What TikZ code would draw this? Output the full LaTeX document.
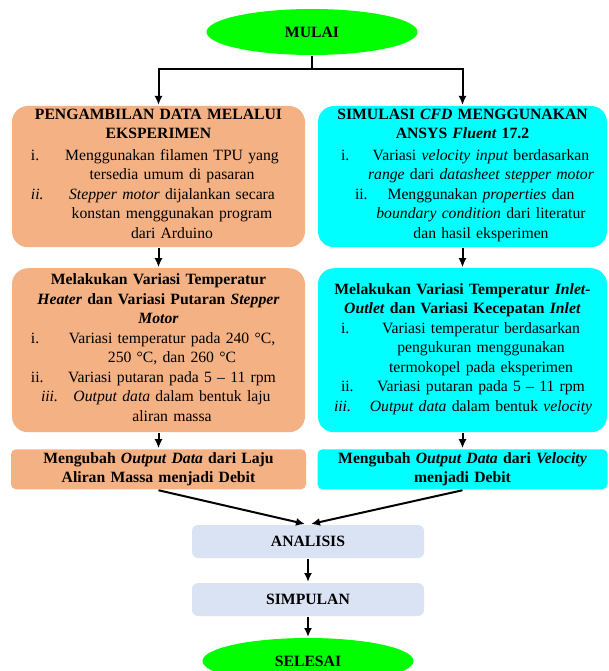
\documentclass[tikz,border=0pt]{standalone}
\usepackage{fontspec}
\setmainfont{Liberation Serif}
\usepackage{array}
\usetikzlibrary{positioning}
\usetikzlibrary{shapes.geometric}
\usetikzlibrary{arrows.meta}
\definecolor{expfill}{HTML}{F4B183}
\definecolor{simfill}{HTML}{00FFFF}
\definecolor{endfill}{HTML}{00FF00}
\definecolor{procfill}{HTML}{DAE3F3}
\newcommand{\flowfont}{\fontsize{15.7}{19.5}\selectfont}

\begin{document}
\begin{tikzpicture}[x=1pt,y=-1pt,line width=2pt,>={Latex[length=9pt,width=8pt]},font=\flowfont,
  endnode/.style={ellipse,fill=endfill,minimum width=211pt,minimum height=46pt,font=\flowfont\bfseries},
  expbox/.style={rectangle,rounded corners=16pt,fill=expfill,text width=293pt,align=center,inner xsep=0pt,inner ysep=3pt},
  simbox/.style={expbox,fill=simfill,text width=289pt},
  debitexpbox/.style={expbox,rounded corners=5pt,text width=295pt,minimum height=40pt,font=\flowfont\bfseries},
  debitsimbox/.style={debitexpbox,fill=simfill,text width=290pt},
  procbox/.style={rectangle,rounded corners=6pt,fill=procfill,minimum width=232pt,minimum height=33pt,font=\flowfont\bfseries}]
  \useasboundingbox (0,0) rectangle (608,671);
  \node[endnode] (mulai) at (312,32) {MULAI};
  \node[expbox,minimum height=141pt,anchor=north] (eksp) at (158.5,105) {%
    \textbf{PENGAMBILAN DATA MELALUI}\\\textbf{EKSPERIMEN}\\[2pt]
    \begin{tabular}[t]{@{}p{27pt}@{}>{\centering\arraybackslash}p{228pt}@{}}
      i. & Menggunakan filamen TPU yang\par tersedia umum di pasaran\\
      \textit{ii.} & \textit{Stepper motor} dijalankan secara\par konstan menggunakan program\par dari Arduino
    \end{tabular}};
  \node[simbox,minimum height=141pt,anchor=north] (simu) at (462.5,105) {%
    \textbf{SIMULASI \textit{CFD} MENGGUNAKAN}\\\textbf{ANSYS \textit{Fluent} 17.2}\\[2pt]
    \begin{tabular}[t]{@{\hspace{15pt}}p{22pt}@{}>{\centering\arraybackslash}p{236pt}@{}}
      i. & Variasi \textit{velocity input} berdasarkan\par \textit{range} dari \textit{datasheet stepper motor}\\
      \rlap{\hspace*{14pt}ii.} & Menggunakan \textit{properties} dan\par \textit{boundary condition} dari literatur\par dan hasil eksperimen
    \end{tabular}};
  \node[expbox,minimum height=164pt,below=19pt of eksp] (varexp) {%
    \textbf{Melakukan Variasi Temperatur}\\\textbf{\textit{Heater} dan Variasi Putaran \textit{Stepper}}\\\textbf{\textit{Motor}}\\
    \begin{tabular}[t]{@{}p{27pt}@{}>{\centering\arraybackslash}p{228pt}@{}}
      i. & Variasi temperatur pada 240 °C,\par 250 °C, dan 260 °C\\
      ii. & Variasi putaran pada 5 -- 11 rpm\\
      \hspace*{10pt}\textit{iii.} & \textit{Output data} dalam bentuk laju\par aliran massa
    \end{tabular}};
  \node[simbox,minimum height=164pt,below=19pt of simu] (varsim) {%
    \textbf{Melakukan Variasi Temperatur \textit{Inlet-}}\\\textbf{\textit{Outlet} dan Variasi Kecepatan \textit{Inlet}}\\
    \begin{tabular}[t]{@{\hspace{15pt}}p{22pt}@{}>{\centering\arraybackslash}p{236pt}@{}}
      i. & Variasi temperatur berdasarkan\par pengukuran menggunakan\par termokopel pada eksperimen\\
      ii. & Variasi putaran pada 5 -- 11 rpm\\
      \hspace*{-7pt}\textit{iii.} & \textit{Output data} dalam bentuk \textit{velocity}
    \end{tabular}};
  \node[debitexpbox,below=15pt of varexp] (debitexp) {Mengubah \textit{Output Data} dari Laju\\Aliran Massa menjadi Debit};
  \node[debitsimbox,below=15pt of varsim] (debitsim) {Mengubah \textit{Output Data} dari \textit{Velocity}\\menjadi Debit};
  \node[procbox] (analisis) at (308,541.5) {ANALISIS};
  \node[procbox,below=23pt of analisis] (simpulan) {SIMPULAN};
  \node[endnode,below=20pt of simpulan] (selesai) {SELESAI};
  % cabang dari mulai
  \coordinate (fork) at (312,69);
  \draw (mulai.south) -- (fork);
  \draw[->] (fork) -| (eksp.north);
  \draw[->] (fork) -| (simu.north);
  \draw[->] (eksp) -- (varexp);
  \draw[->] (simu) -- (varsim);
  \draw[->] (varexp) -- (debitexp);
  \draw[->] (varsim) -- (debitsim);
  \draw[->] (debitexp.south) -- ([xshift=-3pt]analisis.north);
  \draw[->] (debitsim.south) -- ([xshift=3pt]analisis.north);
  \draw[->] (analisis) -- (simpulan);
  \draw[->] (simpulan) -- (selesai);
\end{tikzpicture}
\end{document}
